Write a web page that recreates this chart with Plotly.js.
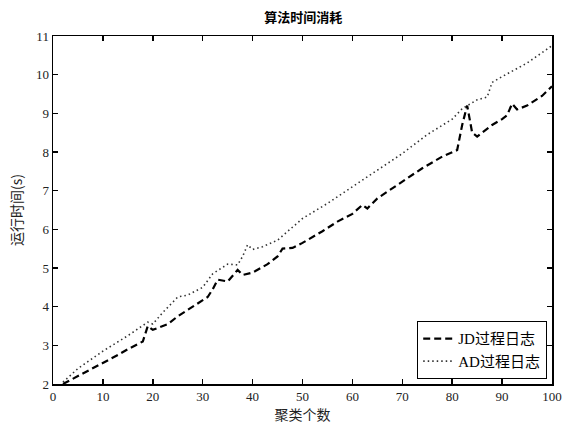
<!DOCTYPE html>
<html>
<head>
<meta charset="utf-8">
<script src="https://cdn.plot.ly/plotly-3.0.1.min.js"></script>
<style>html,body{margin:0;padding:0;background:#fff;}#chart{width:570px;height:424px;}</style>
</head>
<body>
<div id="chart"></div>
<script>
const jdX = [2, 5, 8, 10, 13, 15, 18, 19, 20, 23, 25, 28, 31, 32, 33, 35, 37, 38, 40, 43, 45, 46, 48, 50, 54, 57, 60, 62, 63, 65, 68, 71, 74, 78, 80, 81, 82, 83, 84, 85, 88, 90, 91, 92, 93, 95, 98, 100];
const jdY = [2.0, 2.2, 2.4, 2.55, 2.75, 2.9, 3.1, 3.5, 3.4, 3.55, 3.75, 4.0, 4.25, 4.45, 4.7, 4.65, 4.95, 4.82, 4.88, 5.1, 5.3, 5.5, 5.52, 5.65, 5.95, 6.2, 6.4, 6.63, 6.54, 6.8, 7.06, 7.32, 7.58, 7.88, 8.0, 8.05, 8.7, 9.2, 8.5, 8.4, 8.7, 8.85, 8.95, 9.25, 9.1, 9.2, 9.45, 9.7];
const adX = [2, 5, 10, 15, 19, 20, 22, 25, 27, 30, 32, 35, 37, 38, 39, 40, 42, 45, 50, 55, 60, 65, 70, 75, 80, 82, 85, 87, 88, 90, 95, 100];
const adY = [2.05, 2.4, 2.85, 3.25, 3.6, 3.55, 3.85, 4.25, 4.3, 4.5, 4.85, 5.1, 5.08, 5.3, 5.6, 5.48, 5.55, 5.72, 6.28, 6.67, 7.1, 7.53, 7.96, 8.45, 8.85, 9.12, 9.35, 9.42, 9.8, 9.95, 10.3, 10.75];
const seriesNames = ["JD过程日志", "AD过程日志"];
const chartTitle = "算法时间消耗";
const xTitle = "聚类个数";
const yTitle = "运行时间(s)";

const serif = "Liberation Serif, DejaVu Serif, serif";
const cjk = "Noto Sans CJK SC, sans-serif";

const traces = [
  {x: jdX, y: jdY, type: "scatter", mode: "lines", name: seriesNames[0],
   line: {color: "#000", width: 2.2, dash: "7px,4px"}},
  {x: adX, y: adY, type: "scatter", mode: "lines", name: seriesNames[1],
   line: {color: "#333", width: 1.6, dash: "1.5px,3px"}}
];

const axisCommon = {
  showgrid: false, zeroline: false, showline: true, linecolor: "#000", linewidth: 1.5,
  mirror: "ticks", ticks: "inside", ticklen: 5, tickcolor: "#000", tickwidth: 1.5,
  tickfont: {family: serif, size: 13, color: "#222"}
};

const layout = {
  width: 570, height: 424,
  margin: {l: 53, r: 18, t: 36, b: 40},
  paper_bgcolor: "#fff", plot_bgcolor: "#fff",
  title: {text: "<b>" + chartTitle + "</b>", font: {family: cjk, size: 13, color: "#000"}, x: 0.532, xanchor: "center", y: 0.958, yanchor: "middle"},
  xaxis: Object.assign({}, axisCommon, {range: [0, 100], dtick: 10, tick0: 0,
    title: {text: xTitle, font: {family: cjk, size: 14, color: "#222"}, standoff: 2}}),
  yaxis: Object.assign({}, axisCommon, {range: [2, 11], dtick: 1, tick0: 2,
    title: {text: yTitle, font: {family: cjk, size: 14, color: "#222"}, standoff: 10}}),
  showlegend: true,
  legend: {x: 0.99, xanchor: "right", y: 0.014, yanchor: "bottom",
    bgcolor: "#fff", bordercolor: "#000", borderwidth: 1.2,
    font: {family: serif + ", " + cjk, size: 15, color: "#000"},
    tracegroupgap: 0, itemwidth: 30}
};

Plotly.newPlot("chart", traces, layout, {displayModeBar: false, staticPlot: true});
</script>
</body>
</html>
